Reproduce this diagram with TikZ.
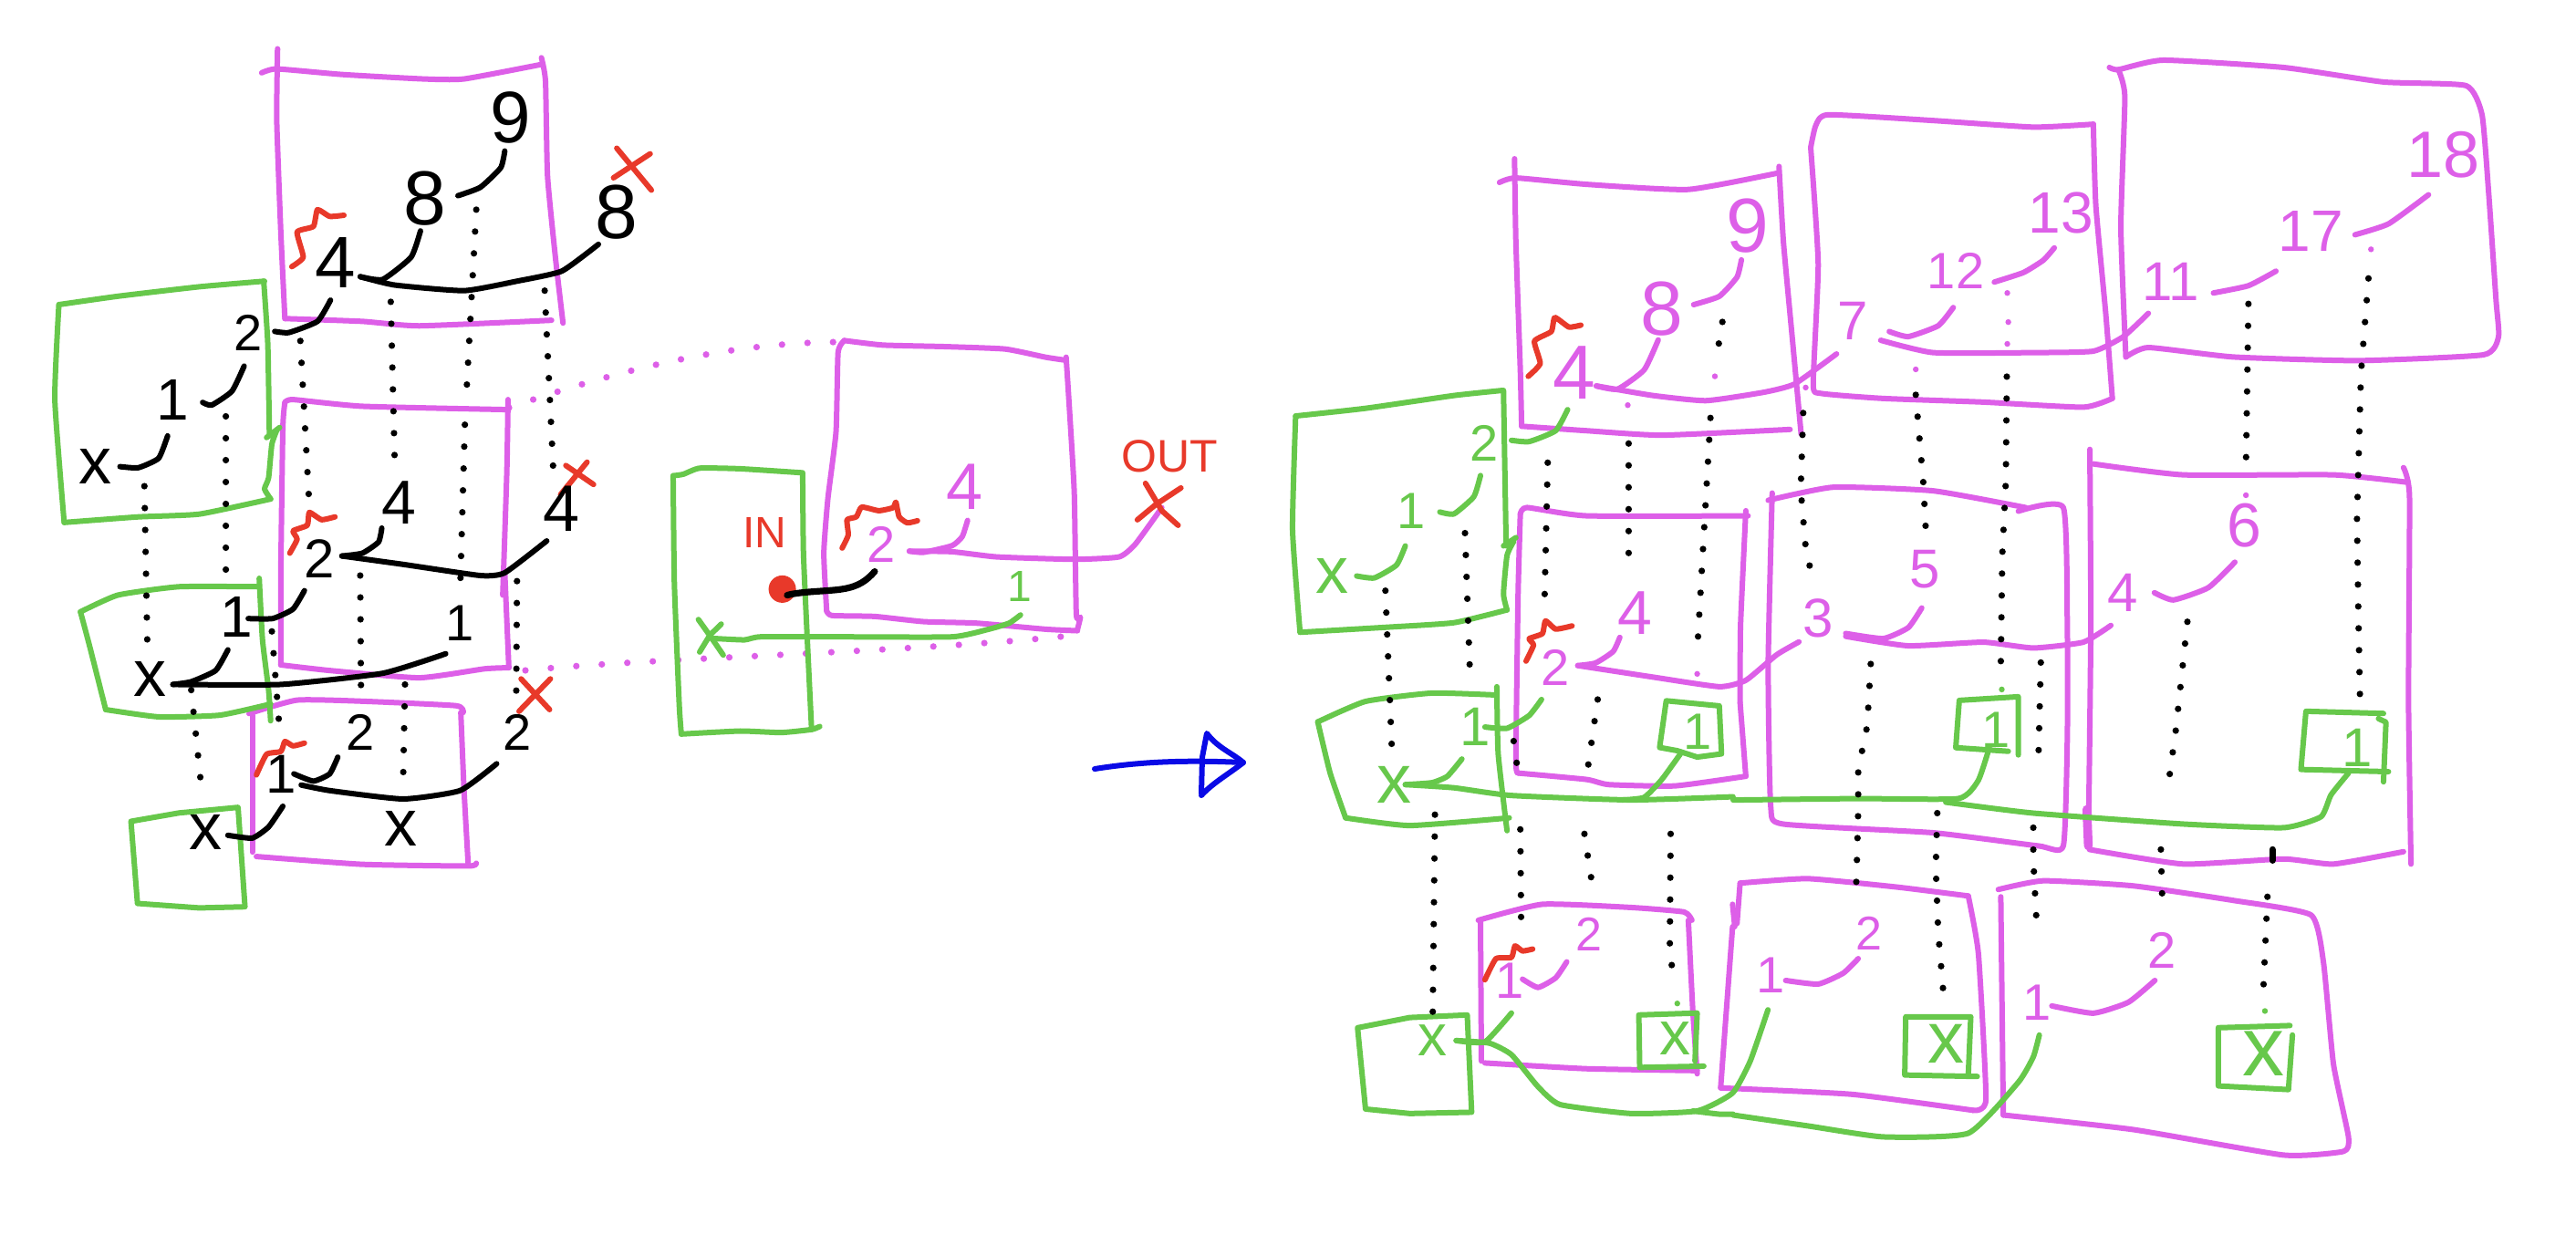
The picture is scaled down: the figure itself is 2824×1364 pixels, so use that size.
\documentclass[tikz,border=0pt]{standalone}
\usepackage{fontspec}
\setmainfont{Liberation Sans}
\definecolor{pk}{HTML}{DD5FE8}
\definecolor{gn}{HTML}{67C84B}
\definecolor{rd}{HTML}{E8392A}
\definecolor{bl}{HTML}{0A0AE6}
\tikzset{
 pkl/.style={draw=pk,line width=1.5pt,line cap=round,line join=round},
 gnl/.style={draw=gn,line width=1.5pt,line cap=round,line join=round},
 rdl/.style={draw=rd,line width=1.5pt,line cap=round,line join=round},
 bkl/.style={draw=black,line width=1.5pt,line cap=round,line join=round},
 bll/.style={draw=bl,line width=1.5pt,line cap=round,line join=round},
 dots/.style={draw=black,line width=1.8pt,line cap=round,dash pattern=on 0pt off 6pt},
 pdots/.style={draw=pk,line width=1.8pt,line cap=round,dash pattern=on 0pt off 7pt},
 tbk/.style={text=black,inner sep=0pt},
 tpk/.style={text=pk,inner sep=0pt},
 tgn/.style={text=gn,inner sep=0pt},
 trd/.style={text=rd,inner sep=0pt},
}
\newcommand\hd[2]{\draw[#1] plot[smooth,tension=.3] coordinates {#2};}
\newcount\lbc
\newcommand\lb[4]{\global\advance\lbc by 1 \node[#1] (n\the\lbc) at (#2) {\fontsize{#3}{#3}\selectfont #4};}
\begin{document}
\begin{tikzpicture}[x=0.25pt,y=-0.25pt]
\useasboundingbox (0,0) rectangle (2824,1364);
\fill[white] (0,0) rectangle (2824,1364);
% pink dotted links and arrow (full-size coordinates)
\coordinate (a1) at (558,447); \coordinate (a2) at (923,375);
\coordinate (b1) at (576,735); \coordinate (b2) at (1173,697);
\draw[pdots] (a1) .. controls (680,405) and (800,375) .. (a2);
\draw[pdots] (b1) .. controls (700,722) and (1000,715) .. (b2);
\coordinate (ar0) at (1200,843); \coordinate (ar1) at (1363,836);
\draw[bll] (ar0) .. controls (1250,835) and (1300,833) .. (ar1);
\draw[bll] (1317,870) -- (1318,830) -- (1323,804) .. controls (1335,820) and (1350,825) .. (ar1) .. controls (1345,850) and (1330,858) .. (1317,872);

%%% LEFT BLACK DIAGRAM
\begin{scope}[shift={(40,40)},x=0.1116pt,y=-0.1531pt]
\hd{pkl}{(553,65)(590,58)(750,68)(950,76)(1050,76)(1240,50)}
\hd{pkl}{(1240,38)(1250,80)(1255,250)(1275,400)(1293,513)}
\hd{pkl}{(592,22)(590,150)(600,350)(610,505)}
\hd{pkl}{(610,505)(800,510)(940,518)(1265,508)}
\hd{pkl}{(600,1125)(600,960)(605,700)(610,655)}
\hd{pkl}{(610,655)(630,650)(800,662)(1158,668)}
\hd{pkl}{(1158,650)(1155,780)(1145,1000)}
\hd{pkl}{(1150,960)(1160,1130)}
\hd{pkl}{(1160,1130)(1100,1132)(940,1148)(720,1135)(600,1125)}
\hd{pkl}{(522,1212)(640,1188)(800,1190)(1030,1198)(1048,1210)}
\hd{pkl}{(530,1215)(530,1460)}
\hd{pkl}{(1042,1210)(1050,1350)(1060,1480)}
\hd{pkl}{(540,1468)(800,1482)(1060,1485)(1080,1480)}
\hd{gnl}{(68,870)(45,650)(55,480)}
\hd{gnl}{(55,480)(200,465)(400,448)(560,438)}
\hd{gnl}{(558,438)(568,550)(572,715)}
\draw[gnl] (565,718) -- (597,700);
\hd{gnl}{(590,705)(578,730)(570,790)(560,810)(575,828)}
\hd{gnl}{(575,828)(400,855)(250,860)(68,870)}
\hd{gnl}{(545,985)(350,985)(200,1000)(108,1030)}
\hd{gnl}{(108,1030)(130,1090)(170,1205)}
\hd{gnl}{(170,1205)(300,1218)(450,1215)(575,1195)}
\hd{gnl}{(547,970)(555,1080)(570,1170)(575,1225)}
\draw[gnl] (232,1405) -- (350,1390) -- (495,1380) -- (512,1558) -- (400,1560) -- (248,1552) -- cycle;
% black curves
\hd{bkl}{(205,770)(250,772)(300,755)(322,715)}
\hd{bkl}{(408,655)(430,660)(480,635)(510,590)}
\hd{bkl}{(585,528)(620,530)(690,510)(722,472)}
\hd{bkl}{(795,430)(850,435)(920,395)(943,348)}
\hd{bkl}{(1035,285)(1090,270)(1140,235)(1150,205)}
\hd{bkl}{(795,430)(880,445)(1050,455)(1180,438)(1290,420)(1380,372)}
\hd{bkl}{(750,930)(800,925)(840,905)(848,880)}
\hd{bkl}{(750,930)(900,945)(1090,965)(1150,960)(1253,903)}
\hd{bkl}{(520,1042)(580,1042)(630,1025)(658,992)}
\hd{bkl}{(335,1160)(380,1155)(440,1135)(470,1098)}
\hd{bkl}{(335,1160)(600,1160)(850,1140)(1005,1105)}
\hd{bkl}{(632,1320)(680,1333)(720,1320)(740,1290)}
\hd{bkl}{(650,1340)(720,1350)(900,1365)(1040,1350)(1130,1302)}
\hd{bkl}{(470,1430)(530,1435)(570,1415)(605,1378)}
% red
\hd{rdl}{(627,412)(655,395)(640,350)(680,340)(690,310)(720,322)(755,320)}
\hd{rdl}{(622,925)(640,900)(630,885)(665,875)(670,852)(700,865)(733,860)}
\hd{rdl}{(540,1322)(565,1285)(600,1280)(610,1262)(630,1270)(658,1265)}
\draw[rdl] (1425,200) -- (1510,275) (1417,253) -- (1507,210);
\draw[rdl] (1300,768) -- (1368,802) (1352,762) -- (1287,820);
\draw[rdl] (1190,1150) -- (1260,1205) (1262,1150) -- (1185,1208);
% dots
\draw[dots] (265,805) -- (272,1080);
\draw[dots] (465,680) -- (465,970);
\draw[dots] (648,545) -- (670,840);
\draw[dots] (870,475) -- (880,770);
\draw[dots] (1080,310) -- (1055,650);
\draw[dots] (1052,695) -- (1040,1000);
\draw[dots] (1248,455) -- (1270,790);
\draw[dots] (380,1170) -- (405,1345);
\draw[dots] (578,1065) -- (598,1250);
\draw[dots] (795,965) -- (797,1175);
\draw[dots] (905,1160) -- (900,1345);
\draw[dots] (1180,975) -- (1178,1190);
% labels
\lb{tbk}{1165,145}{20pt}{9}
\lb{tbk}{955,290}{21pt}{8}
\lb{tbk}{1425,315}{21pt}{8}
\lb{tbk}{735,405}{20pt}{4}
\lb{tbk}{520,530}{14pt}{2}
\lb{tbk}{335,650}{16pt}{1}
\lb{tbk}{145,770}{18pt}{x}
\lb{tbk}{890,835}{17pt}{4}
\lb{tbk}{1290,845}{18pt}{4}
\lb{tbk}{695,935}{15pt}{2}
\lb{tbk}{492,1040}{16pt}{1}
\lb{tbk}{1040,1050}{14pt}{1}
\lb{tbk}{278,1150}{18pt}{x}
\lb{tbk}{795,1245}{14pt}{2}
\lb{tbk}{1180,1245}{14pt}{2}
\lb{tbk}{600,1320}{15pt}{1}
\lb{tbk}{415,1425}{18pt}{x}
\lb{tbk}{895,1418}{18pt}{x}
\end{scope}

%%% MIDDLE
\begin{scope}[shift={(700,340)},x=0.1116pt,y=-0.0833pt]
\hd{pkl}{(505,100)(600,115)(750,120)(900,128)(1000,155)(1050,165)}
\hd{pkl}{(1050,155)(1057,300)(1070,600)(1075,1000)(1085,1010)(1078,1050)}
\hd{pkl}{(505,100)(490,140)(485,400)(465,620)(455,800)(462,990)}
\hd{pkl}{(462,990)(475,1005)(580,1008)(700,1025)(830,1030)(1000,1050)(1078,1055)}
\hd{gnl}{(400,535)(250,522)(150,520)(110,540)(85,545)}
\hd{gnl}{(85,545)(88,900)(100,1300)(105,1395)}
\hd{gnl}{(105,1395)(250,1385)(350,1390)(425,1380)(445,1370)}
\hd{gnl}{(403,535)(405,800)(415,1100)(425,1380)}
\node[circle,fill=rd,minimum width=7pt,minimum height=7.5pt,inner sep=0pt] (dot) at (353,918) {};
\coordinate (dotend) at (580,860);
\draw[bkl,line width=1.8pt] (365,938) .. controls (400,925) and (470,925) .. (500,918) .. controls (540,910) and (560,890) .. (dotend);
\draw[gnl] (147,1018) -- (180,1080) -- (208,1135) (203,1033) -- (175,1070) -- (150,1125);
\hd{gnl}{(180,1080)(260,1085)(300,1075)(500,1075)(770,1075)(860,1050)(910,1030)(938,1003)}
\hd{pkl}{(665,793)(700,797)(770,775)(795,745)(808,692)}
\hd{pkl}{(665,793)(770,795)(880,812)(1070,820)(1180,812)(1220,770)(1285,650)}
\hd{rdl}{(500,783)(515,740)(512,690)(535,680)(548,648)(590,660)(625,650)(632,632)(640,680)(660,700)(685,693)}
\draw[rdl] (1245,570) -- (1285,660) -- (1325,708) (1332,585) -- (1270,640) -- (1225,690);
\lb{tgn}{935,908}{12pt}{1}
\lb{tpk}{595,770}{14pt}{2}
\lb{tpk}{800,580}{18pt}{4}
\lb{trd}{1305,482}{12.5pt}{OUT}
\lb{trd}{310,733}{12pt}{IN}
\end{scope}

%%% RIGHT DIAGRAM, LEFT PART
\begin{scope}[shift={(1400,160)},x=0.1212pt,y=-0.1754pt]
\hd{pkl}{(503,57)(540,50)(700,60)(930,68)(1135,42)}
\hd{pkl}{(537,20)(540,150)(550,350)(553,438)}
\hd{pkl}{(553,438)(700,445)(870,452)(1160,443)}
\hd{pkl}{(1135,32)(1145,150)(1165,300)(1185,450)}
\hd{pkl}{(545,980)(540,960)(545,700)(550,575)}
\hd{pkl}{(550,575)(565,565)(700,578)(1065,578)}
\hd{pkl}{(1060,570)(1048,750)(1047,870)}
\hd{pkl}{(1047,870)(1060,985)}
\hd{pkl}{(1060,985)(900,1000)(750,998)(700,990)(545,980)}
\hd{pkl}{(455,1210)(600,1185)(800,1190)(920,1197)(938,1210)}
\hd{pkl}{(460,1210)(462,1430)}
\hd{pkl}{(930,1210)(940,1350)(950,1450)}
\hd{pkl}{(470,1433)(700,1442)(950,1445)}
\hd{pkl}{(1047,1152)(1200,1145)(1400,1158)(1563,1172)}
\hd{pkl}{(1563,1172)(1586,1263)(1603,1490)(1574,1507)}
\hd{pkl}{(1574,1507)(1300,1482)(1003,1472)}
\hd{pkl}{(1047,1152)(1040,1215)}
\hd{pkl}{(1030,1185)(1035,1220)}
\hd{pkl}{(1030,1220)(1003,1472)}
% green boxes
\hd{gnl}{(52,760)(35,600)(42,422)}
\hd{gnl}{(42,422)(200,410)(400,390)(510,382)}
\hd{gnl}{(512,382)(518,625)}
\draw[gnl] (512,625) -- (540,612);
\hd{gnl}{(535,618)(520,640)(512,700)(520,725)}
\hd{gnl}{(520,725)(400,745)(250,752)(52,760)}
\hd{gnl}{(495,858)(350,855)(200,868)(92,900)}
\hd{gnl}{(92,900)(120,980)(155,1050)}
\hd{gnl}{(155,1050)(300,1062)(525,1050)}
\hd{gnl}{(497,845)(500,950)(520,1070)}
\draw[gnl] (182,1378) -- (300,1362) -- (430,1358) -- (440,1510) -- (300,1512) -- (200,1505) -- cycle;
\draw[gnl] (880,867) -- (1000,875) -- (1005,950) -- (950,955) -- (905,945) -- (865,940) -- cycle;
\draw[gnl] (820,1440) -- (818,1358) -- (950,1355) -- (945,1430);
\draw[gnl] (820,1440) -- (965,1438);
% green curves
\hd{gnl}{(180,672)(220,675)(270,655)(290,625)}
\hd{gnl}{(368,572)(400,575)(445,548)(460,515)}
\hd{gnl}{(530,460)(570,462)(630,445)(657,412)}
\hd{gnl}{(470,908)(520,910)(570,890)(598,865)}
\hd{gnl}{(290,998)(350,995)(385,985)(418,958)}
\hd{gnl}{(290,998)(400,1003)(530,1015)(800,1022)(1031,1017)}
\hd{gnl}{(780,1022)(830,1018)(870,990)(912,950)}
\hd{gnl}{(405,1398)(470,1400)(530,1355)}
\hd{gnl}{(405,1398)(480,1402)(530,1420)(590,1470)(640,1498)(800,1512)(950,1508)(1030,1480)(1070,1430)(1110,1350)}
\hd{gnl}{(940,1508)(1000,1513)(1031,1513)}
% pink curves
\hd{pkl}{(722,375)(770,380)(830,350)(862,303)}
\hd{pkl}{(942,248)(1000,235)(1040,205)(1050,178)}
\hd{pkl}{(722,375)(850,390)(970,398)(1100,385)(1170,372)(1265,325)}
\hd{pkl}{(680,812)(720,808)(760,790)(775,768)}
\hd{pkl}{(680,812)(850,830)(1000,845)(1060,835)(1130,795)(1180,775)}
\hd{pkl}{(555,1302)(590,1315)(630,1300)(655,1275)}
% red
\hd{rdl}{(568,360)(595,340)(582,305)(620,290)(628,268)(660,283)(687,280)}
\hd{rdl}{(563,805)(580,780)(570,770)(600,762)(607,742)(630,755)(667,750)}
\hd{rdl}{(470,1303)(495,1270)(530,1268)(538,1250)(555,1258)(578,1255)}
% dots
\draw[dots] (245,695) -- (260,950);
\draw[dots] (425,605) -- (437,840);
\draw[dots] (612,495) -- (605,705);
\draw[dots] (795,465) -- (795,670);
\draw[dots] (1007,275) -- (995,325);
\draw[dots] (980,425) -- (950,790);
\draw[dots] (725,865) -- (700,985);
\draw[dots] (535,930) -- (548,995);
\draw[dots] (550,1068) -- (552,1220);
\draw[dots] (695,1075) -- (715,1165);
\draw[dots] (890,1075) -- (888,1260) -- (898,1305);
\draw[dots] (357,1045) -- (352,1355);
\fill[pk] (793,405) circle (0.8pt) (990,360) circle (0.8pt) (950,825) circle (0.8pt);
\fill[gn] (905,1340) circle (0.8pt);
% labels
\lb{tpk}{1065,125}{21pt}{9}
\lb{tpk}{870,255}{21pt}{8}
\lb{tpk}{672,355}{21pt}{4}
\lb{tpk}{810,730}{17pt}{4}
\lb{tpk}{630,815}{14pt}{2}
\lb{tpk}{705,1232}{13pt}{2}
\lb{tpk}{527,1305}{14pt}{1}
\lb{tgn}{125,672}{18pt}{x}
\lb{tgn}{303,570}{14pt}{1}
\lb{tgn}{468,465}{14pt}{2}
\lb{tgn}{447,908}{15pt}{1}
\lb{tgn}{265,998}{19pt}{x}
\lb{tgn}{352,1397}{16pt}{x}
\lb{tgn}{950,915}{14pt}{1}
\lb{tgn}{900,1395}{17pt}{x}
\end{scope}

%%% RIGHT DIAGRAM, RIGHT PART
\begin{scope}[shift={(1900,50)},x=0.1371pt,y=-0.1994pt]
\hd{pkl}{(155,140)(165,110)(190,95)(400,103)(600,112)(720,108)}
\hd{pkl}{(720,108)(725,220)(745,370)(758,485)}
\hd{pkl}{(758,485)(700,497)(500,490)(300,485)(175,478)(160,465)(170,300)(155,140)}
\hd{pkl}{(752,30)(770,33)(860,20)(1100,30)(1300,50)(1465,55)(1497,95)(1510,200)(1525,350)(1530,400)(1500,425)(1250,433)(1000,428)(830,415)(785,428)}
\hd{pkl}{(770,33)(783,70)(775,250)(785,428)}
\hd{pkl}{(70,625)(200,607)(400,612)(585,635)}
\hd{pkl}{(570,640)(660,635)(668,800)(668,950)(660,1100)(610,1100)(400,1082)(100,1070)(75,1045)(70,850)(78,615)}
\hd{pkl}{(720,575)(900,590)(1200,590)(1345,600)}
\hd{pkl}{(713,555)(715,800)(710,1100)}
\draw[pkl,line width=2.4pt] (707,1050) -- (710,1100);
\hd{pkl}{(1340,580)(1352,620)(1350,900)(1355,1125)}
\hd{pkl}{(712,1105)(900,1125)(1100,1118)(1200,1125)(1340,1108)}
\hd{pkl}{(530,1160)(620,1148)(800,1155)(1000,1175)(1155,1195)(1180,1260)(1200,1400)(1230,1500)(1220,1520)(1100,1525)(800,1490)(540,1470)}
\hd{pkl}{(540,1470)(535,1170)}
% small green boxes
\draw[gnl] (570,975) -- (570,895) -- (452,900) -- (445,965) -- (550,970);
\draw[gnl] (1300,918) -- (1145,915) -- (1135,995) -- (1310,998);
\draw[gnl] (1290,925) -- (1305,930) -- (1300,1012);
\draw[gnl] (470,1415) -- (475,1335) -- (345,1335) -- (343,1415) -- (488,1417);
\draw[gnl] (970,1350) -- (1113,1347);
\draw[gnl] (1118,1360) -- (1110,1435) -- (970,1430) -- (970,1350);
% green curves
\hd{gnl}{(0,1037)(250,1035)(450,1035)(490,1010)(512,965)}
\hd{gnl}{(425,1040)(600,1055)(900,1070)(1100,1075)(1175,1060)(1195,1030)(1230,1000)}
\hd{gnl}{(0,1470)(150,1485)(300,1500)(470,1495)(570,1425)(600,1390)(612,1360)}
% pink curves
\hd{pkl}{(522,325)(580,312)(620,295)(642,278)}
\hd{pkl}{(312,393)(350,400)(410,385)(440,360)}
\hd{pkl}{(295,405)(400,422)(600,422)(720,420)(780,400)(830,368)}
\hd{pkl}{(960,340)(1030,330)(1085,310)}
\hd{pkl}{(1243,260)(1310,245)(1390,205)}
\hd{pkl}{(225,808)(300,815)(350,800)(377,773)}
\hd{pkl}{(225,812)(350,825)(500,820)(600,828)(700,820)(755,797)}
\hd{pkl}{(842,752)(880,762)(950,745)(1003,710)}
\hd{pkl}{(105,1285)(170,1290)(220,1275)(250,1255)}
\hd{pkl}{(637,1320)(720,1330)(790,1315)(843,1285)}
% dots
\draw[dots] (140,505) -- (135,610) -- (145,690) -- (157,728);
\draw[dots] (365,480) -- (370,520) -- (380,600) -- (385,665);
\draw[dots] (547,455) -- (545,600) -- (538,700) -- (535,850);
\draw[dots] (275,850) -- (268,935) -- (250,995) -- (250,1050) -- (247,1130) -- (245,1175);
\draw[dots] (408,1055) -- (405,1130) -- (410,1220) -- (420,1300);
\draw[dots] (615,848) -- (610,985);
\draw[dots] (600,1075) -- (600,1120) -- (608,1225);
\draw[dots] (908,792) -- (885,940) -- (868,1025);
\draw[dots] (855,1105) -- (858,1180);
\draw[dots] (1030,355) -- (1025,580);
\draw[dots] (1270,320) -- (1255,450) -- (1247,650) -- (1250,790) -- (1253,895);
\draw[dots,dash pattern=on 3pt off 6pt] (1078,1105) -- (1078,1120);
\draw[dots] (1068,1170) -- (1060,1295);
\fill[pk] (145,470) circle (0.8pt) (365,445) circle (0.8pt) (548,340) circle (0.8pt) (550,380) circle (0.8pt) (548,410) circle (0.8pt) (1275,280) circle (0.8pt) (1025,618) circle (0.8pt);
\fill[gn] (537,885) circle (0.8pt) (1063,1327) circle (0.8pt);
% labels
\lb{tpk}{655,230}{16pt}{13}
\lb{tpk}{445,310}{14pt}{12}
\lb{tpk}{240,378}{15pt}{7}
\lb{tpk}{1420,150}{18pt}{18}
\lb{tpk}{1155,255}{16pt}{17}
\lb{tpk}{875,325}{15pt}{11}
\lb{tpk}{170,787}{15pt}{3}
\lb{tpk}{383,720}{15pt}{5}
\lb{tpk}{778,752}{15pt}{4}
\lb{tpk}{1022,660}{17pt}{6}
\lb{tpk}{75,1278}{14pt}{1}
\lb{tpk}{272,1220}{13pt}{2}
\lb{tpk}{607,1315}{14pt}{1}
\lb{tpk}{858,1243}{14pt}{2}
\lb{tgn}{525,940}{14pt}{1}
\lb{tgn}{1248,965}{15pt}{1}
\lb{tgn}{425,1372}{20pt}{x}
\lb{tgn}{1060,1385}{23pt}{x}
\end{scope}
\end{tikzpicture}
\end{document}
